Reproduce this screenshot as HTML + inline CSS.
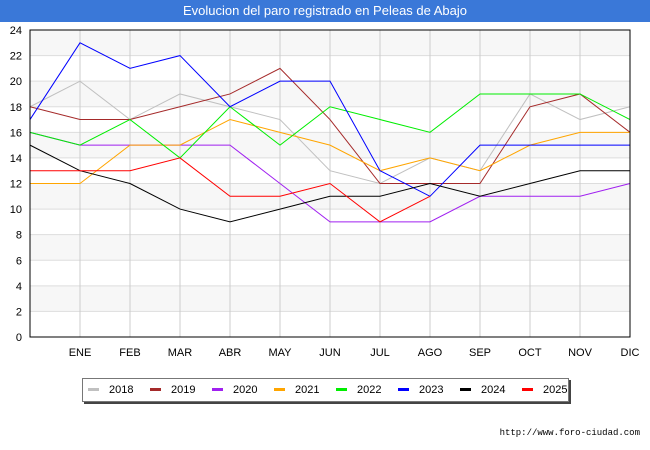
<!DOCTYPE html>
<html><head><meta charset="utf-8"><style>
body{margin:0;width:650px;height:450px;background:#fff;font-family:"Liberation Sans","DejaVu Sans",sans-serif;overflow:hidden;position:relative}
#title{position:absolute;left:0;top:0;width:650px;height:22px;background:#3a78d8;color:#fff;font-size:13px;text-align:center;line-height:22px}
#legend{position:absolute;left:82px;top:378px;width:485px;height:22px;border:1px solid #777;box-shadow:2px 2px 0 #444;background:#fff;font-size:11px}
.le{position:absolute;top:4px;height:14px;line-height:14px;white-space:nowrap}
.le i{display:inline-block;width:11px;height:3px;vertical-align:middle;margin-right:10px;margin-top:-2px}
#foot{position:absolute;right:10px;top:428px;font-size:9px;font-family:"Liberation Mono",monospace}
</style></head><body>
<div id="title">Evolucion del paro registrado en Peleas de Abajo</div>
<svg id="chart" width="650" height="450" style="position:absolute;left:0;top:0"></svg>
<div id="legend"></div>
<div id="foot">http://www.foro-ciudad.com</div>
<script>
const months = ["", "ENE","FEB","MAR","ABR","MAY","JUN","JUL","AGO","SEP","OCT","NOV","DIC"];
const yTicks = [0,2,4,6,8,10,12,14,16,18,20,22,24];
const seriesNames = ["2018","2019","2020","2021","2022","2023","2024","2025"];
const seriesColors = ["#c0c0c0","#a52a2a","#a020f0","#ffa500","#00ee00","#0000ff","#000000","#ff0000"];
const s2018 = [18,20,17,19,18,17,13,12,14,13,19,17,18];
const s2019 = [18,17,17,18,19,21,17,12,12,12,18,19,16];
const s2020 = [16,15,15,15,15,12,9,9,9,11,11,11,12];
const s2021 = [12,12,15,15,17,16,15,13,14,13,15,16,16];
const s2022 = [16,15,17,14,18,15,18,17,16,19,19,19,17];
const s2023 = [17,23,21,22,18,20,20,13,11,15,15,15,15];
const s2024 = [15,13,12,10,9,10,11,11,12,11,12,13,13];
const s2025 = [13,13,13,14,11,11,12,9,11];
const allSeries = [s2018,s2019,s2020,s2021,s2022,s2023,s2024,s2025];

const X0=30,X1=630,Y0=337,Y1=30,YMAX=24;
const xs=i=>X0+i*(X1-X0)/(months.length-1);
const ys=v=>Y0-(v/YMAX)*(Y0-Y1);
const svg=document.getElementById('chart');
const NS="http://www.w3.org/2000/svg";
function mk(t,a){const e=document.createElementNS(NS,t);for(const k in a)e.setAttribute(k,a[k]);svg.appendChild(e);return e;}
for(let i=0;i<yTicks.length-1;i++){
  if(i%2===1){const r=mk('rect',{x:X0,y:ys(yTicks[i+1]),width:X1-X0,height:ys(yTicks[i])-ys(yTicks[i+1]),fill:'#f7f7f7'});
  
  }
}
yTicks.forEach(v=>{
  const l=mk('line',{x1:X0,x2:X1,y1:ys(v),y2:ys(v),stroke:'#ddd','stroke-width':1});
  
  
  const t=mk('text',{x:X0-8,y:ys(v)+4,'text-anchor':'end','font-size':11,fill:'#000'});
  t.textContent=v;
  
  
});
months.forEach((m,i)=>{
  if(i>0){const l=mk('line',{x1:xs(i),x2:xs(i),y1:Y1,y2:Y0,stroke:'#ccc','stroke-width':1});
  
  }
  const t=mk('text',{x:xs(i),y:356,'text-anchor':'middle','font-size':11,fill:'#000'});
  t.textContent=m;
  
  
});
allSeries.forEach((s,k)=>{
  const p=mk('polyline',{points:s.map((v,i)=>xs(i)+','+ys(v)).join(' '),fill:'none',stroke:seriesColors[k],'stroke-width':1});
  
  
});
const fr=mk('rect',{x:X0,y:Y1,width:X1-X0,height:Y0-Y1,fill:'none',stroke:'#000','stroke-width':1});


const lg=document.getElementById('legend');
seriesNames.forEach((n,k)=>{
  const d=document.createElement('div');
  d.className='le';
  d.style.left=(5+k*62)+'px';
  d.innerHTML='<i style="background:'+seriesColors[k]+'"></i>'+n;
  
  
  lg.appendChild(d);
});
</script>
</body></html>
